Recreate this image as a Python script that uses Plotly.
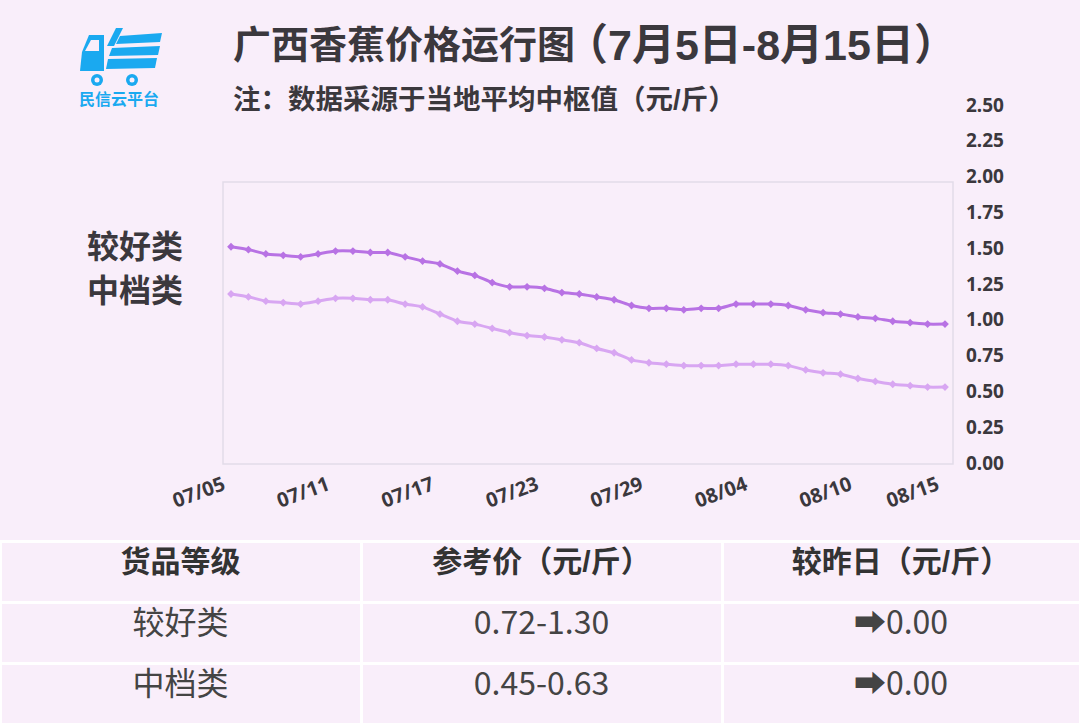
import plotly.graph_objects as go

W, H = 1080, 724
BG = "#f9eefa"
DARK = "#3b383d"
BLUE = "#1aa9f0"
CJK = "Liberation Sans, Noto Sans CJK SC"

# ---- data ----
dates = ["07/05", "07/06", "07/07", "07/08", "07/09", "07/10", "07/11", "07/12",
         "07/13", "07/14", "07/15", "07/16", "07/17", "07/18", "07/19", "07/20",
         "07/21", "07/22", "07/23", "07/24", "07/25", "07/26", "07/27", "07/28",
         "07/29", "07/30", "07/31", "08/01", "08/02", "08/03", "08/04", "08/05",
         "08/06", "08/07", "08/08", "08/09", "08/10", "08/11", "08/12", "08/13",
         "08/14", "08/15"]
good = [1.51, 1.49, 1.46, 1.45, 1.44, 1.46, 1.48, 1.48, 1.47, 1.47, 1.44, 1.41,
        1.39, 1.34, 1.31, 1.26, 1.23, 1.23, 1.22, 1.19, 1.18, 1.16, 1.14, 1.10,
        1.08, 1.08, 1.07, 1.08, 1.08, 1.11, 1.11, 1.11, 1.10, 1.07, 1.05, 1.04,
        1.02, 1.01, 0.99, 0.98, 0.97, 0.97]
mid = [1.18, 1.16, 1.13, 1.12, 1.11, 1.13, 1.15, 1.15, 1.14, 1.14, 1.11, 1.09,
       1.04, 0.99, 0.97, 0.94, 0.91, 0.89, 0.88, 0.86, 0.84, 0.80, 0.77, 0.72,
       0.70, 0.69, 0.68, 0.68, 0.68, 0.69, 0.69, 0.69, 0.68, 0.65, 0.63, 0.62,
       0.59, 0.57, 0.55, 0.54, 0.53, 0.53]
xticks = ["07/05", "07/11", "07/17", "07/23", "07/29", "08/04", "08/10", "08/15"]
yticks = [0, 0.25, 0.5, 0.75, 1.0, 1.25, 1.5, 1.75, 2.0, 2.25, 2.5]

tbl_head = ["货品等级", "参考价（元/斤）", "较昨日（元/斤）"]
grades = ["较好类", "中档类"]
prices = ["0.72-1.30", "0.45-0.63"]
changes = ["➡0.00", "➡0.00"]


def px(x):
    return x / W


def py(y):
    return 1 - y / H


def poly(pts):
    return "M " + " L ".join(f"{px(a):.5f},{py(b):.5f}" for a, b in pts) + " Z"


fig = go.Figure()

fig.add_trace(go.Scatter(x=dates, y=mid, name="中档类", mode="lines+markers",
                         line=dict(color="#d8a6f2", width=3, shape="spline", smoothing=0.5),
                         marker=dict(symbol="diamond", size=6, color="#d8a6f2")))
fig.add_trace(go.Scatter(x=dates, y=good, name="较好类", mode="lines+markers",
                         line=dict(color="#b872e4", width=3, shape="spline", smoothing=0.5),
                         marker=dict(symbol="diamond", size=6, color="#b872e4")))

fig.add_trace(go.Table(
    domain=dict(x=[0, 1], y=[0, py(541)]),
    columnwidth=[361, 361, 358],
    header=dict(values=tbl_head, height=61, align="center",
                fill_color=BG, line=dict(color="white", width=3),
                font=dict(family=CJK, size=30, color="#333333", weight="bold")),
    cells=dict(values=[grades, prices, changes], height=61, align="center",
               fill_color=BG, line=dict(color="white", width=3),
               font=dict(family="Liberation Sans Narrow, Noto Sans CJK SC", size=32, color="#444444")),
))

shapes = [
    # plot frame
    dict(type="rect", xref="paper", yref="paper", x0=px(223), x1=px(953), y0=py(464), y1=py(182),
         line=dict(color="#e2dbe9", width=1.5), layer="below"),
    # logo: cab
    dict(type="path", xref="paper", yref="paper",
         path=poly([(89, 35), (104, 35), (104, 71), (80, 71), (82, 52)]),
         fillcolor=BLUE, line=dict(width=0)),
    dict(type="path", xref="paper", yref="paper",
         path=poly([(91, 40), (99, 40), (99, 51), (85, 51)]),
         fillcolor=BG, line=dict(width=0)),
    # logo: cargo strokes
    dict(type="path", xref="paper", yref="paper",
         path=poly([(116, 28), (123, 28), (114, 46), (107, 46)]),
         fillcolor=BLUE, line=dict(width=0)),
    dict(type="path", xref="paper", yref="paper",
         path=poly([(120, 36), (162, 33), (160, 42), (116, 44)]),
         fillcolor=BLUE, line=dict(width=0)),
    dict(type="path", xref="paper", yref="paper",
         path=poly([(112, 48), (160, 46), (158, 55), (109, 56)]),
         fillcolor=BLUE, line=dict(width=0)),
    dict(type="path", xref="paper", yref="paper",
         path=poly([(108, 59), (157, 58), (155, 68), (106, 69)]),
         fillcolor=BLUE, line=dict(width=0)),
]
for cx in (97, 132):
    shapes.append(dict(type="circle", xref="paper", yref="paper",
                       x0=px(cx - 6), x1=px(cx + 6), y0=py(86), y1=py(74),
                       fillcolor=BLUE, line=dict(width=0)))
    shapes.append(dict(type="circle", xref="paper", yref="paper",
                       x0=px(cx - 2.5), x1=px(cx + 2.5), y0=py(82.5), y1=py(77.5),
                       fillcolor=BG, line=dict(width=0)))

annotations = [
    dict(text="广西香蕉价格运行图", x=px(231), y=py(45), xanchor="left", yanchor="middle",
         font=dict(family=CJK, size=38, color=DARK, weight="bold")),
    dict(text="（7月5日-8月15日）", x=px(563), y=py(45), xanchor="left", yanchor="middle",
         font=dict(family=CJK, size=43, color=DARK, weight="bold")),
    dict(text="注：数据采源于当地平均中枢值（元/斤）", x=px(231), y=py(100), xanchor="left", yanchor="middle",
         font=dict(family=CJK, size=27.5, color=DARK, weight="bold")),
    dict(text="较好类", x=px(85), y=py(247), xanchor="left", yanchor="middle",
         font=dict(family=CJK, size=32, color=DARK, weight="bold")),
    dict(text="中档类", x=px(85), y=py(291), xanchor="left", yanchor="middle",
         font=dict(family=CJK, size=32, color=DARK, weight="bold")),
    dict(text="民信云平台", x=px(119), y=py(99), xanchor="center", yanchor="middle",
         font=dict(family=CJK, size=16, color=BLUE, weight="bold")),
]
for a in annotations:
    a.update(xref="paper", yref="paper", showarrow=False)

fig.update_layout(
    width=W, height=H, margin=dict(l=0, r=0, t=0, b=0, pad=0),
    paper_bgcolor=BG, plot_bgcolor=BG, showlegend=False,
    shapes=shapes, annotations=annotations,
    xaxis=dict(domain=[px(223), px(953)], type="category", range=[-0.46, 41.46],
               tickmode="array", tickvals=xticks, ticktext=xticks, tickangle=-20,
               showgrid=False, zeroline=False, showline=False, ticks="",
               ticklabelstandoff=6, ticklabelshift=-8, automargin=False,
               tickfont=dict(family="Noto Sans", size=20, color=DARK, weight="bold")),
    yaxis=dict(domain=[py(463), py(105)], range=[0, 2.5], side="right",
               tickmode="array", tickvals=yticks, tickformat=".2f",
               showgrid=False, zeroline=False, showline=False, ticks="",
               ticklabelstandoff=12, automargin=False,
               tickfont=dict(family="Noto Sans", size=19, color=DARK, weight="bold")),
)

# drop the page's default body margin so the figure sits at the window's corner
fig.write_html("out.html", config={"displayModeBar": False},
               post_script="document.body.style.margin='0';")
